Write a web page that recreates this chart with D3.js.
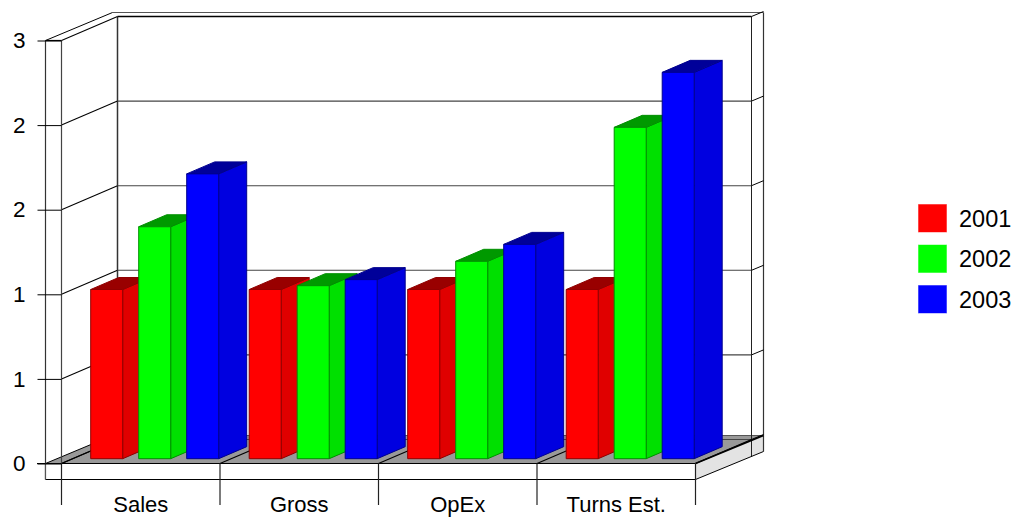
<!DOCTYPE html>
<html>
<head>
<meta charset="utf-8">
<style>
  html, body { margin: 0; padding: 0; background: #fff; }
  svg { display: block; }
  text { font-family: "Liberation Sans", Arial, sans-serif; fill: #000; }
</style>
<script src="https://cdn.jsdelivr.net/npm/d3@7/dist/d3.min.js"></script>
</head>
<body>
<svg id="chart" width="1023" height="517"></svg>
<script>
// Chart data
const categories = ["Sales", "Gross", "OpEx", "Turns Est."];
const years = ["2001", "2002", "2003"];
const values2001 = [1.2, 1.2, 1.2, 1.2];
const values2002 = [1.645, 1.227, 1.40, 2.35];
const values2003 = [2.02, 1.27, 1.52, 2.74];
const yTicks = [0, 0.6, 1.2, 1.8, 2.4, 3];
const yTickLabels = ["0", "1", "1", "2", "2", "3"];

// Face colours per series: front, side, top, edge
const faces = {
  "2001": ["#ff0000", "#e00000", "#990000", "#8f0000"],
  "2002": ["#00ff00", "#00e000", "#009900", "#008f00"],
  "2003": ["#0000ff", "#0000e0", "#000099", "#00008f"]
};
const seriesValues = [values2001, values2002, values2003];

const svg = d3.select("#chart");

// Front plane scales
const plotLeft = 61.5, plotRight = 695.5, baseY = 463.5, topY = 40.5;
const outerLeft = 45.5;
const y = d3.scaleLinear().domain([0, 3]).range([baseY, topY]);
const x0 = d3.scaleBand().domain(categories).range([plotLeft, plotRight]);
const x1 = d3.scaleBand().domain(years).range([18, 146]).paddingInner(1 / 3);

// Oblique projection: depth 1 is the back wall
const depthX = 56, depthY = -24;
const px = (x, d) => x + depthX * d;
const py = (v, d) => v + depthY * d;
const poly = pts => pts.map(p => p.join(",")).join(" ");

const frame = svg.append("g").attr("fill", "none").attr("stroke", "#000");
const line = (x1_, y1_, x2_, y2_, color = "#000", w = 1) =>
  frame.append("line")
    .attr("x1", x1_).attr("y1", y1_).attr("x2", x2_).attr("y2", y2_)
    .attr("stroke", color).attr("stroke-width", w);

const outerDX = 67, outerDY = -28, stripH = 16;
const backL = px(plotLeft, 1), backR = px(plotRight, 1);

// Floor and the pale side of the base
frame.append("polygon")
  .attr("points", poly([[outerLeft, baseY], [plotRight, baseY],
    [plotRight + outerDX + 1, baseY + outerDY], [outerLeft + outerDX, baseY + outerDY]]))
  .attr("fill", "#999").attr("stroke", "none");
frame.append("polygon")
  .attr("points", poly([[plotRight, baseY], [plotRight + outerDX + 1, baseY + outerDY],
    [plotRight + outerDX + 1, baseY + outerDY + stripH], [plotRight, baseY + stripH]]))
  .attr("fill", "#e3e3e3").attr("stroke", "none");

// Outer frame
line(outerLeft + outerDX, topY + outerDY, plotRight + outerDX + 1, topY + outerDY, "#555", 1.2);
line(outerLeft, topY, outerLeft + outerDX, topY + outerDY);
line(outerLeft, topY, outerLeft, baseY + stripH, "#333", 1.2);
line(plotRight + outerDX + 1, topY + outerDY, plotRight + outerDX + 1, baseY + outerDY + stripH, "#333", 1.2);
line(outerLeft + outerDX, baseY + outerDY, plotRight + outerDX + 1, baseY + outerDY, "#555", 1);

// Walls and gridlines
line(backL, py(topY, 1), backL, py(baseY, 1), "#333", 1.5);
line(backR, py(topY, 1), backR, py(baseY, 1) + 17, "#222", 1);
yTicks.forEach(t => {
  const v = y(t);
  const top = t === yTicks[yTicks.length - 1];
  line(plotLeft, v, backL, py(v, 1), "#000", 1.1);
  line(backL, py(v, 1), backR, py(v, 1), top ? "#000" : "#444", top ? 1.4 : 1.1);
  line(backR, py(v, 1), backR + 12, py(v, 1) - 5, "#000", 1);
});

// Category dividers running across the floor
d3.range(categories.length + 1).forEach(i => {
  const xi = plotLeft + i * x0.step();
  line(xi, baseY, px(xi, 1), py(baseY, 1), "#000", 1.1);
});
line(outerLeft, baseY, outerLeft + outerDX, baseY + outerDY, "#000", 1);

// Bars, drawn left to right so nearer faces overlap correctly
const barFront = 0.2, barBack = 0.7;
const bars = svg.append("g");
categories.forEach((cat, ci) => {
  years.forEach((yr, si) => {
    const v = seriesValues[si][ci];
    const [front, side, topFace, edge] = faces[yr];
    const l = x0(cat) + x1(yr), r = l + x1.bandwidth();
    const b = y(0), t = y(v);
    const g = bars.append("g")
      .attr("stroke", edge).attr("stroke-width", 1).attr("stroke-linejoin", "round");
    g.append("polygon").attr("fill", side).attr("points", poly([
      [px(r, barFront), py(b, barFront)], [px(r, barBack), py(b, barBack)],
      [px(r, barBack), py(t, barBack)], [px(r, barFront), py(t, barFront)]]));
    g.append("polygon").attr("fill", topFace).attr("points", poly([
      [px(l, barFront), py(t, barFront)], [px(r, barFront), py(t, barFront)],
      [px(r, barBack), py(t, barBack)], [px(l, barBack), py(t, barBack)]]));
    g.append("polygon").attr("fill", front).attr("points", poly([
      [px(l, barFront), py(t, barFront)], [px(r, barFront), py(t, barFront)],
      [px(r, barFront), py(b, barFront)], [px(l, barFront), py(b, barFront)]]));
  });
});

// Front base strip, drawn above the bars
const over = svg.append("g").attr("fill", "none");
const overLine = (a, b, c, d, color = "#000", w = 1.2) =>
  over.append("line").attr("x1", a).attr("y1", b).attr("x2", c).attr("y2", d)
    .attr("stroke", color).attr("stroke-width", w);
over.append("rect").attr("x", outerLeft).attr("y", baseY).attr("width", plotRight - outerLeft).attr("height", stripH)
  .attr("fill", "#fff");
overLine(37, baseY, plotRight, baseY);
overLine(outerLeft, baseY + stripH, plotRight, baseY + stripH);
overLine(outerLeft, baseY, outerLeft, baseY + stripH, "#555");
overLine(plotRight, baseY, plotRight + outerDX + 1, baseY + outerDY, "#000", 1.6);
overLine(plotRight, baseY + stripH, plotRight + outerDX + 1, baseY + outerDY + stripH, "#000", 1);
overLine(plotLeft, topY, plotLeft, baseY, "#444", 1.2);
overLine(outerLeft, topY, plotLeft, topY, "#000", 1.2);
d3.range(categories.length + 1).forEach(i => {
  const xi = plotLeft + i * x0.step();
  overLine(xi, baseY, xi, 505, "#222", 1.2);
});

// Value axis
const yAxis = d3.axisLeft(y)
  .tickValues(yTicks)
  .tickSize(24)
  .tickPadding(12)
  .tickFormat((d, i) => yTickLabels[i]);
const yG = svg.append("g").attr("transform", `translate(${plotLeft},0)`).call(yAxis);
yG.select(".domain").remove();
yG.selectAll("line").attr("stroke", "#000").attr("stroke-width", 1);
yG.selectAll("text").attr("font-size", 22.5).attr("font-family", '"Liberation Sans", Arial, sans-serif');

// Category axis
const xAxis = d3.axisBottom(x0).tickSize(0).tickPadding(33);
const xG = svg.append("g").attr("transform", `translate(0,${baseY})`).call(xAxis);
xG.select(".domain").remove();
xG.selectAll("text").attr("font-size", 22).attr("font-family", '"Liberation Sans", Arial, sans-serif');

// Legend
const legendY = d3.scalePoint().domain(years).range([218, 299]);
const legend = svg.append("g").selectAll("g").data(years).join("g")
  .attr("transform", d => `translate(918,${legendY(d)})`);
legend.append("rect")
  .attr("x", 0.5).attr("y", -13.5).attr("width", 28).attr("height", 27.5)
  .attr("fill", d => faces[d][0])
  .attr("stroke", d => faces[d][0]).attr("stroke-opacity", 0.45);
legend.append("text")
  .attr("x", 41).attr("y", 8.5)
  .attr("font-size", 23.5)
  .text(d => d);
</script>
</body>
</html>
